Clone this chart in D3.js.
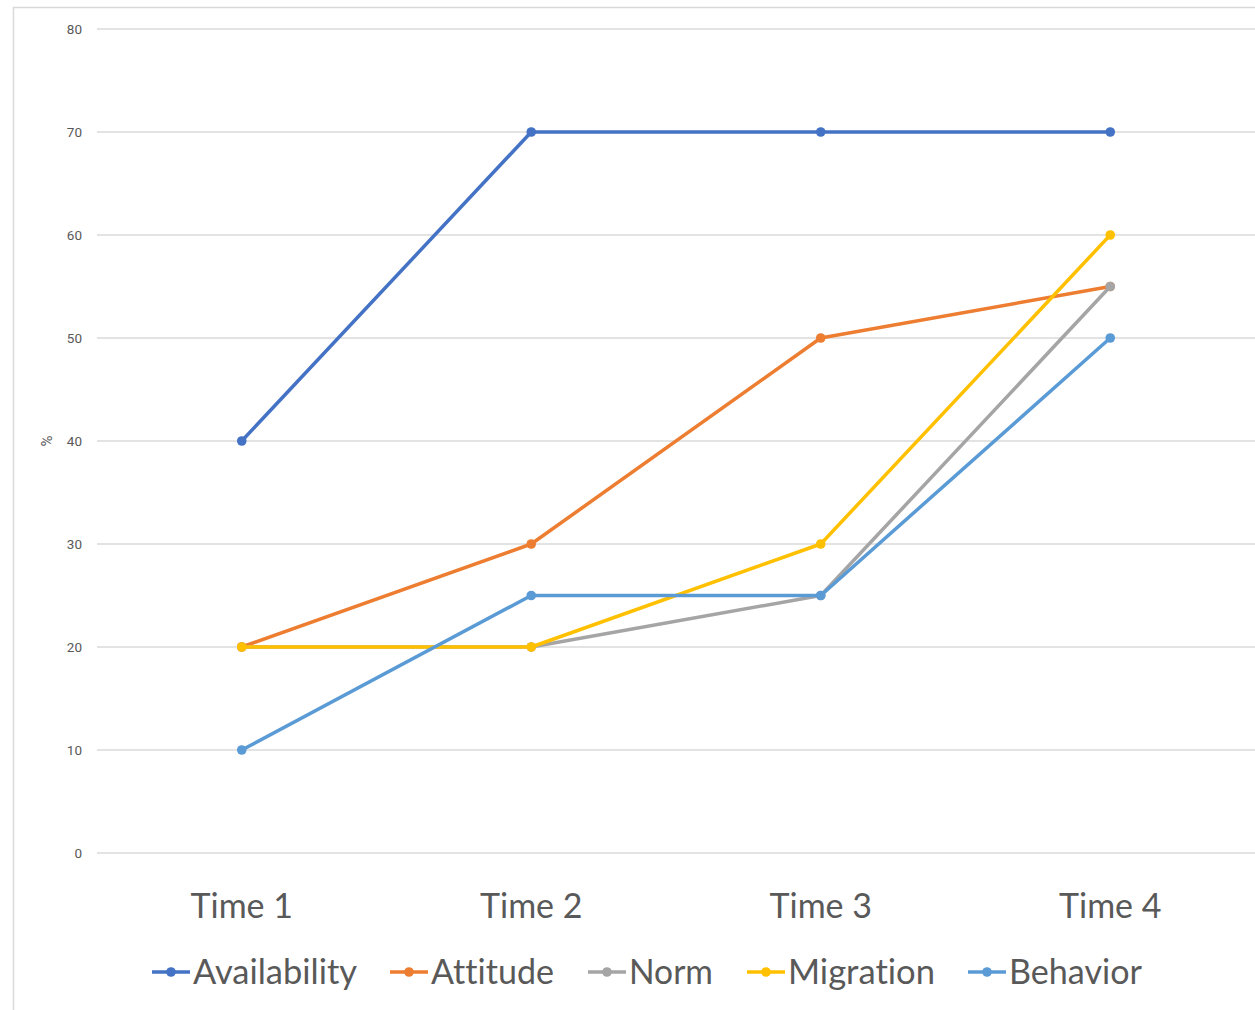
<!DOCTYPE html>
<html><head><meta charset="utf-8">
<script src="https://cdn.jsdelivr.net/npm/d3@7"></script>
<style>body{margin:0;background:#fff}svg{display:block}text{font-variant-ligatures:none;font-feature-settings:"liga" 0,"clig" 0}</style>
</head><body>
<script>
const categories = ["Time 1","Time 2","Time 3","Time 4"];
const seriesNames = ["Availability","Attitude","Norm","Migration","Behavior"];
const availability = [40,70,70,70];
const attitude = [20,30,50,55];
const norm = [20,20,25,55];
const migration = [20,20,30,60];
const behavior = [10,25,25,50];
const yTicks = [0,10,20,30,40,50,60,70,80];
const colors = ["#4472C4","#ED7D31","#A5A5A5","#FFC000","#5B9BD5"];
const seriesValues = [availability, attitude, norm, migration, behavior];

const W = 1255, H = 1010;
const svg = d3.select("body").append("svg").attr("width", W).attr("height", H);

// border
svg.append("path").attr("d", "M13.5,1010 V7.5 H1255").attr("fill","none").attr("stroke","#d9d9d9").attr("stroke-width",1.5);

const x = d3.scaleBand().domain(categories).range([97, 1255]);
const y = d3.scaleLinear().domain([0, 80]).range([853, 29]);

// y axis labels
const yAxis = d3.axisLeft(y).tickValues(yTicks).tickSize(0).tickPadding(0);
const ga = svg.append("g").attr("transform","translate(82,0)").call(yAxis);
ga.select(".domain").remove();
ga.selectAll("text").attr("font-family","Roboto, 'Noto Sans', sans-serif").attr("font-size",13.5).attr("fill","#595959").attr("dy","0.32em");
// gridlines
svg.append("g").selectAll("line").data(yTicks).join("line")
  .attr("x1",97).attr("x2",1255).attr("y1",d=>y(d)).attr("y2",d=>y(d))
  .attr("stroke","#e3e3e3").attr("stroke-width",2);

// y title
svg.append("text").attr("transform",`translate(52,${y(40)}) rotate(-90)`).attr("text-anchor","middle")
  .attr("font-family","Roboto, sans-serif").attr("font-size",15).attr("fill","#595959").text("%");

// x axis labels
const xAxis = d3.axisBottom(x).tickSize(0).tickPadding(0);
const gx = svg.append("g").attr("transform","translate(0,906)").call(xAxis);
gx.select(".domain").remove();
gx.selectAll("text").attr("font-family","Lato, 'Open Sans', sans-serif").attr("font-size",34).attr("fill","#595959").attr("dy","0.35em");

// lines
const line = d3.line().x((d,i)=>x(categories[i]) + x.bandwidth()/2).y(d=>y(d));
seriesValues.forEach((vals, si) => {
  const g = svg.append("g");
  g.append("path").datum(vals).attr("d", line).attr("fill","none").attr("stroke",colors[si]).attr("stroke-width",3.5).attr("stroke-linejoin","round");
  g.selectAll("circle").data(vals).join("circle")
    .attr("cx",(d,i)=>x(categories[i]) + x.bandwidth()/2).attr("cy",d=>y(d)).attr("r",4.8).attr("fill",colors[si]);
});

// legend
const legendX = [152, 390, 588, 747, 968];
const legendW = [164, 123, 84, 147, 133];
const ly = 972;
seriesNames.forEach((name, i) => {
  const g = svg.append("g").attr("transform",`translate(${legendX[i]},${ly})`);
  g.append("line").attr("x1",0).attr("x2",38).attr("stroke",colors[i]).attr("stroke-width",3.5);
  g.append("circle").attr("cx",19).attr("r",4.8).attr("fill",colors[i]);
  g.append("text").attr("x",41).attr("dy","0.35em").attr("font-family","Lato, 'Open Sans', sans-serif").attr("font-size",35).attr("fill","#595959")
    .attr("textLength",legendW[i]).attr("lengthAdjust","spacingAndGlyphs").text(name);
});
</script>
</body></html>
